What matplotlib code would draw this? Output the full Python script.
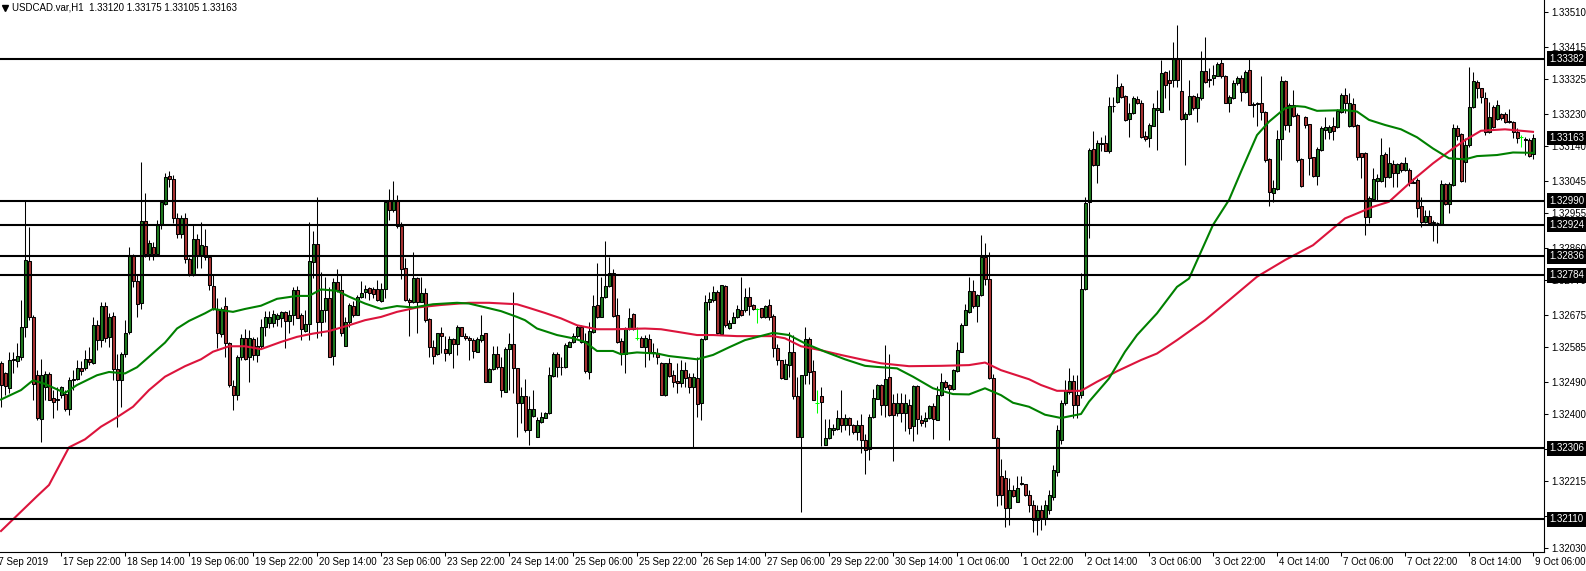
import matplotlib
matplotlib.use('Agg')
import matplotlib.pyplot as plt
import numpy as np
from matplotlib.transforms import blended_transform_factory

plt.rcParams['font.family'] = ['Liberation Sans', 'DejaVu Sans']

title = "USDCAD.var,H1  1.33120 1.33175 1.33105 1.33163"

opens = [
1.32542,1.32513,1.32473,1.32549,1.32548,1.32559,1.32640,1.32823,1.32669,1.32508,1.32386,1.32476,1.32511,1.32445,1.32442,1.32453,
1.32455,1.32416,1.32494,1.32498,1.32529,1.32529,1.32554,1.32543,1.32647,1.32605,1.32699,1.32614,1.32671,1.32524,1.32496,1.32568,
1.32628,1.32838,1.32769,1.32708,1.32934,1.32844,1.32861,1.32844,1.32922,1.32982,1.33058,1.33051,1.32941,1.32899,1.32941,1.32828,
1.32784,1.32883,1.32840,1.32865,1.32835,1.32755,1.32692,1.32623,1.32699,1.32596,1.32478,1.32453,1.32557,1.32611,1.32557,1.32609,
1.32565,1.32590,1.32640,1.32653,1.32653,1.32663,1.32665,1.32682,1.32659,1.32673,1.32744,1.32673,1.32631,1.32650,1.32822,1.32871,
1.32656,1.32687,1.32722,1.32562,1.32765,1.32744,1.32590,1.32656,1.32699,1.32675,1.32723,1.32737,1.32749,1.32746,1.32746,1.32714,
1.32746,1.32988,1.32965,1.32988,1.32920,1.32803,1.32716,1.32711,1.32776,1.32711,1.32734,1.32663,1.32587,1.32566,1.32624,1.32580,
1.32569,1.32607,1.32594,1.32640,1.32617,1.32612,1.32606,1.32573,1.32606,1.32624,1.32490,1.32524,1.32567,1.32530,1.32463,1.32581,
1.32594,1.32527,1.32430,1.32451,1.32357,1.32395,1.32338,1.32380,1.32389,1.32403,1.32507,1.32568,1.32532,1.32532,1.32587,1.32601,
1.32616,1.32642,1.32602,1.32518,1.32628,1.32702,1.32670,1.32723,1.32754,1.32789,1.32674,1.32602,1.32567,1.32636,1.32677,1.32612,
1.32610,1.32587,1.32607,1.32573,1.32570,1.32541,1.32453,1.32541,1.32509,1.32492,1.32487,1.32522,1.32504,1.32476,1.32501,1.32430,
1.32608,1.32709,1.32716,1.32739,1.32622,1.32754,1.32639,1.32653,1.32668,1.32688,1.32688,1.32725,1.32702,1.32690,1.32693,1.32668,
1.32702,1.32671,1.32583,1.32549,1.32499,1.32537,1.32571,1.32451,1.32338,1.32508,1.32607,1.32519,1.32431,1.32450,1.32316,1.32336,
1.32358,1.32359,1.32391,1.32372,1.32391,1.32370,1.32351,1.32372,1.32330,1.32303,1.32393,1.32443,1.32482,1.32427,1.32503,1.32430,
1.32404,1.32430,1.32404,1.32427,1.32368,1.32478,1.32384,1.32382,1.32391,1.32422,1.32385,1.32453,1.32488,1.32482,1.32469,1.32520,
1.32572,1.32648,1.32683,1.32740,1.32699,1.32729,1.32835,1.32775,1.32501,1.32336,1.32229,1.32225,1.32142,1.32192,1.32158,1.32207,
1.32209,1.32177,1.32149,1.32108,1.32136,1.32113,1.32136,1.32172,1.32240,1.32329,1.32431,1.32463,1.32492,1.32454,1.32454,1.32746,
1.32985,1.33132,1.33089,1.33146,1.33149,1.33127,1.33252,1.33262,1.33307,1.33279,1.33215,1.33231,1.33270,1.33259,1.33169,1.33162,
1.33197,1.33239,1.33236,1.33345,1.33323,1.33322,1.33381,1.33293,1.33215,1.33229,1.33279,1.33245,1.33273,1.33348,1.33322,1.33328,
1.33335,1.33370,1.33335,1.33261,1.33273,1.33316,1.33330,1.33289,1.33351,1.33257,1.33259,1.33259,1.33236,1.33105,1.33011,1.33022,
1.33160,1.33319,1.33199,1.33254,1.33226,1.33105,1.33222,1.33202,1.33110,1.33058,1.33130,1.33185,1.33180,1.33196,1.33192,1.33236,
1.33282,1.33196,1.33257,1.33199,1.33121,1.33121,1.32946,1.32995,1.33045,1.33045,1.33118,1.33056,1.33090,1.33065,1.33093,1.33075,
1.33075,1.33042,1.33047,1.32976,1.32930,1.32948,1.32930,1.32928,1.32925,1.33035,1.32981,1.33033,1.33190,1.33173,1.33098,1.33144,
1.33248,1.33317,1.33300,1.33273,1.33180,1.33248,1.33215,1.33228,1.33228,1.33211,1.33208,1.33180,1.33165,1.33159,1.33157,1.33120]

highs = [
1.32547,1.32517,1.32573,1.32573,1.32598,1.32715,1.32990,1.32916,1.32674,1.32522,1.32554,1.32520,1.32517,1.32467,1.32476,1.32479,
1.32467,1.32504,1.32522,1.32550,1.32547,1.32577,1.32587,1.32669,1.32660,1.32711,1.32711,1.32679,1.32683,1.32568,1.32573,1.32660,
1.32863,1.32844,1.32784,1.33097,1.33010,1.32881,1.32876,1.32936,1.32992,1.33065,1.33073,1.33061,1.32957,1.32950,1.32955,1.32835,
1.32922,1.32899,1.32930,1.32913,1.32840,1.32784,1.32720,1.32697,1.32725,1.32600,1.32494,1.32563,1.32623,1.32637,1.32634,1.32614,
1.32614,1.32663,1.32684,1.32684,1.32688,1.32679,1.32684,1.32684,1.32688,1.32753,1.32755,1.32679,1.32688,1.32930,1.32907,1.33001,
1.32794,1.32778,1.32753,1.32776,1.32802,1.32785,1.32670,1.32707,1.32714,1.32730,1.32767,1.32757,1.32753,1.32753,1.32771,1.32762,
1.32988,1.33022,1.33045,1.33006,1.32932,1.32831,1.32721,1.32848,1.32780,1.32780,1.32748,1.32665,1.32606,1.32626,1.32642,1.32615,
1.32615,1.32610,1.32647,1.32642,1.32624,1.32615,1.32610,1.32613,1.32675,1.32626,1.32527,1.32589,1.32589,1.32559,1.32587,1.32624,
1.32739,1.32527,1.32476,1.32499,1.32451,1.32467,1.32393,1.32407,1.32407,1.32532,1.32573,1.32573,1.32559,1.32596,1.32602,1.32624,
1.32647,1.32647,1.32624,1.32656,1.32729,1.32817,1.32780,1.32879,1.32835,1.32800,1.32720,1.32610,1.32642,1.32693,1.32679,1.32642,
1.32616,1.32619,1.32622,1.32596,1.32582,1.32545,1.32543,1.32555,1.32522,1.32541,1.32550,1.32545,1.32513,1.32513,1.32559,1.32610,
1.32729,1.32739,1.32754,1.32743,1.32757,1.32757,1.32660,1.32683,1.32702,1.32780,1.32748,1.32751,1.32706,1.32693,1.32695,1.32702,
1.32718,1.32678,1.32595,1.32551,1.32554,1.32628,1.32618,1.32503,1.32510,1.32641,1.32614,1.32549,1.32468,1.32476,1.32388,1.32388,
1.32374,1.32411,1.32466,1.32402,1.32393,1.32373,1.32384,1.32402,1.32347,1.32402,1.32471,1.32485,1.32485,1.32591,1.32566,1.32457,
1.32459,1.32459,1.32457,1.32443,1.32480,1.32480,1.32397,1.32407,1.32425,1.32430,1.32479,1.32513,1.32494,1.32485,1.32524,1.32600,
1.32651,1.32706,1.32779,1.32772,1.32732,1.32895,1.32872,1.32847,1.32512,1.32338,1.32278,1.32246,1.32225,1.32204,1.32229,1.32229,
1.32209,1.32191,1.32163,1.32149,1.32150,1.32163,1.32190,1.32260,1.32370,1.32440,1.32495,1.32527,1.32509,1.32509,1.32790,1.33001,
1.33135,1.33181,1.33158,1.33167,1.33170,1.33277,1.33277,1.33339,1.33314,1.33282,1.33259,1.33279,1.33279,1.33268,1.33181,1.33204,
1.33259,1.33296,1.33379,1.33347,1.33351,1.33429,1.33475,1.33383,1.33236,1.33323,1.33282,1.33287,1.33402,1.33443,1.33356,1.33365,
1.33374,1.33381,1.33337,1.33282,1.33323,1.33333,1.33337,1.33351,1.33381,1.33262,1.33262,1.33335,1.33238,1.33107,1.33047,1.33185,
1.33333,1.33323,1.33259,1.33296,1.33231,1.33107,1.33224,1.33203,1.33111,1.33139,1.33196,1.33222,1.33199,1.33222,1.33242,1.33288,
1.33300,1.33286,1.33273,1.33202,1.33122,1.33125,1.33003,1.33079,1.33064,1.33162,1.33125,1.33139,1.33102,1.33093,1.33098,1.33111,
1.33079,1.33052,1.33052,1.33001,1.32964,1.32964,1.32937,1.32932,1.33047,1.33038,1.33042,1.33202,1.33199,1.33176,1.33164,1.33360,
1.33346,1.33323,1.33302,1.33291,1.33263,1.33254,1.33268,1.33233,1.33236,1.33242,1.33211,1.33190,1.33171,1.33167,1.33162,1.33175]

lows = [
1.32421,1.32453,1.32458,1.32513,1.32531,1.32550,1.32614,1.32660,1.32439,1.32384,1.32324,1.32439,1.32439,1.32389,1.32412,1.32444,
1.32410,1.32398,1.32467,1.32494,1.32508,1.32522,1.32536,1.32540,1.32577,1.32587,1.32600,1.32587,1.32494,1.32366,1.32421,1.32559,
1.32623,1.32752,1.32669,1.32692,1.32835,1.32826,1.32826,1.32840,1.32913,1.32978,1.33028,1.32927,1.32886,1.32886,1.32817,1.32782,
1.32783,1.32803,1.32803,1.32826,1.32743,1.32688,1.32582,1.32614,1.32559,1.32476,1.32413,1.32439,1.32550,1.32550,1.32490,1.32550,
1.32545,1.32582,1.32615,1.32638,1.32642,1.32644,1.32642,1.32584,1.32624,1.32647,1.32665,1.32604,1.32627,1.32606,1.32776,1.32610,
1.32615,1.32656,1.32557,1.32536,1.32739,1.32615,1.32588,1.32642,1.32670,1.32673,1.32721,1.32721,1.32716,1.32721,1.32714,1.32711,
1.32721,1.32937,1.32960,1.32914,1.32773,1.32714,1.32617,1.32707,1.32626,1.32709,1.32656,1.32559,1.32539,1.32564,1.32569,1.32546,
1.32564,1.32527,1.32564,1.32615,1.32606,1.32550,1.32555,1.32573,1.32601,1.32489,1.32489,1.32523,1.32525,1.32447,1.32463,1.32466,
1.32460,1.32338,1.32375,1.32352,1.32315,1.32393,1.32338,1.32375,1.32389,1.32401,1.32504,1.32504,1.32509,1.32527,1.32585,1.32596,
1.32612,1.32596,1.32513,1.32499,1.32624,1.32665,1.32670,1.32720,1.32752,1.32670,1.32598,1.32536,1.32515,1.32633,1.32633,1.32605,
1.32585,1.32530,1.32550,1.32559,1.32538,1.32453,1.32451,1.32504,1.32476,1.32460,1.32476,1.32476,1.32458,1.32306,1.32393,1.32384,
1.32605,1.32688,1.32711,1.32622,1.32619,1.32642,1.32636,1.32651,1.32665,1.32671,1.32683,1.32674,1.32688,1.32653,1.32665,1.32665,
1.32660,1.32559,1.32536,1.32499,1.32499,1.32503,1.32443,1.32338,1.32131,1.32485,1.32485,1.32439,1.32404,1.32313,1.32315,1.32333,
1.32342,1.32356,1.32351,1.32356,1.32342,1.32347,1.32328,1.32292,1.32236,1.32275,1.32391,1.32442,1.32399,1.32393,1.32395,1.32271,
1.32395,1.32379,1.32354,1.32347,1.32327,1.32347,1.32367,1.32365,1.32388,1.32331,1.32384,1.32451,1.32471,1.32328,1.32467,1.32517,
1.32571,1.32646,1.32680,1.32695,1.32655,1.32726,1.32756,1.32499,1.32336,1.32146,1.32149,1.32089,1.32094,1.32172,1.32158,1.32204,
1.32174,1.32130,1.32075,1.32067,1.32080,1.32094,1.32125,1.32163,1.32230,1.32318,1.32426,1.32455,1.32390,1.32390,1.32444,1.32744,
1.32886,1.33087,1.33038,1.33126,1.33126,1.33121,1.33236,1.33259,1.33273,1.33210,1.33167,1.33229,1.33256,1.33164,1.33155,1.33139,
1.33195,1.33130,1.33234,1.33273,1.33241,1.33305,1.33305,1.33213,1.33089,1.33227,1.33241,1.33206,1.33268,1.33314,1.33305,1.33308,
1.33333,1.33330,1.33259,1.33236,1.33271,1.33310,1.33264,1.33287,1.33253,1.33222,1.33195,1.33213,1.33098,1.32976,1.32986,1.33020,
1.33103,1.33185,1.33180,1.33222,1.33098,1.33029,1.33190,1.33061,1.33056,1.33033,1.33128,1.33159,1.33159,1.33157,1.33190,1.33233,
1.33231,1.33194,1.33194,1.33102,1.33052,1.32895,1.32929,1.32992,1.32992,1.33042,1.33029,1.33052,1.33029,1.33029,1.33070,1.33073,
1.33030,1.33038,1.32946,1.32918,1.32927,1.32927,1.32879,1.32872,1.32925,1.32978,1.32955,1.33030,1.33157,1.33042,1.33042,1.33139,
1.33245,1.33273,1.33259,1.33171,1.33178,1.33190,1.33213,1.33213,1.33205,1.33205,1.33162,1.33148,1.33139,1.33116,1.33111,1.33105]

closes = [
1.32480,1.32478,1.32550,1.32552,1.32561,1.32642,1.32826,1.32668,1.32485,1.32389,1.32508,1.32511,1.32441,1.32434,1.32440,1.32476,
1.32416,1.32494,1.32499,1.32527,1.32520,1.32554,1.32545,1.32647,1.32605,1.32699,1.32612,1.32669,1.32524,1.32496,1.32568,1.32626,
1.32841,1.32769,1.32706,1.32934,1.32844,1.32872,1.32844,1.32922,1.32987,1.33054,1.33051,1.32941,1.32899,1.32941,1.32828,1.32784,
1.32883,1.32840,1.32867,1.32835,1.32757,1.32692,1.32625,1.32692,1.32596,1.32481,1.32453,1.32557,1.32611,1.32554,1.32611,1.32565,
1.32590,1.32642,1.32670,1.32670,1.32677,1.32675,1.32682,1.32659,1.32675,1.32744,1.32667,1.32635,1.32650,1.32824,1.32871,1.32656,
1.32688,1.32722,1.32559,1.32765,1.32742,1.32626,1.32656,1.32702,1.32673,1.32725,1.32736,1.32746,1.32734,1.32733,1.32716,1.32746,
1.32986,1.32965,1.32988,1.32920,1.32801,1.32716,1.32711,1.32776,1.32711,1.32734,1.32661,1.32587,1.32562,1.32624,1.32617,1.32569,
1.32607,1.32594,1.32640,1.32617,1.32610,1.32604,1.32576,1.32607,1.32619,1.32490,1.32524,1.32567,1.32530,1.32466,1.32580,1.32594,
1.32527,1.32430,1.32451,1.32358,1.32414,1.32414,1.32384,1.32392,1.32404,1.32509,1.32568,1.32530,1.32531,1.32591,1.32601,1.32616,
1.32642,1.32601,1.32521,1.32630,1.32699,1.32668,1.32725,1.32754,1.32789,1.32671,1.32601,1.32567,1.32636,1.32665,1.32635,1.32612,
1.32587,1.32610,1.32573,1.32570,1.32559,1.32453,1.32541,1.32507,1.32490,1.32487,1.32522,1.32501,1.32476,1.32504,1.32428,1.32608,
1.32711,1.32718,1.32739,1.32624,1.32757,1.32647,1.32651,1.32668,1.32690,1.32674,1.32725,1.32699,1.32690,1.32690,1.32668,1.32699,
1.32670,1.32583,1.32549,1.32501,1.32538,1.32571,1.32451,1.32338,1.32508,1.32607,1.32517,1.32439,1.32431,1.32434,1.32336,1.32361,
1.32361,1.32391,1.32372,1.32391,1.32372,1.32351,1.32372,1.32330,1.32301,1.32393,1.32446,1.32480,1.32427,1.32499,1.32399,1.32399,
1.32430,1.32404,1.32430,1.32361,1.32478,1.32388,1.32376,1.32391,1.32422,1.32386,1.32453,1.32488,1.32476,1.32469,1.32522,1.32577,
1.32648,1.32687,1.32740,1.32699,1.32729,1.32835,1.32775,1.32501,1.32336,1.32177,1.32177,1.32142,1.32192,1.32174,1.32198,1.32211,
1.32177,1.32149,1.32108,1.32136,1.32113,1.32149,1.32177,1.32246,1.32356,1.32431,1.32466,1.32492,1.32426,1.32426,1.32746,1.32983,
1.33130,1.33089,1.33149,1.33149,1.33128,1.33252,1.33251,1.33305,1.33277,1.33213,1.33231,1.33273,1.33259,1.33167,1.33160,1.33199,
1.33245,1.33245,1.33342,1.33310,1.33314,1.33381,1.33322,1.33215,1.33230,1.33279,1.33245,1.33275,1.33348,1.33317,1.33325,1.33337,
1.33368,1.33333,1.33261,1.33275,1.33316,1.33328,1.33289,1.33345,1.33254,1.33254,1.33256,1.33236,1.33101,1.33013,1.33024,1.33160,
1.33319,1.33199,1.33254,1.33224,1.33102,1.33030,1.33199,1.33109,1.33059,1.33134,1.33190,1.33192,1.33194,1.33183,1.33238,1.33282,
1.33259,1.33259,1.33196,1.33111,1.33111,1.32946,1.32998,1.33049,1.33052,1.33115,1.33056,1.33093,1.33065,1.33090,1.33075,1.33093,
1.33038,1.33040,1.32969,1.32932,1.32948,1.32929,1.32928,1.32927,1.33035,1.32981,1.33035,1.33190,1.33169,1.33044,1.33144,1.33248,
1.33319,1.33300,1.33275,1.33180,1.33222,1.33194,1.33254,1.33219,1.33208,1.33208,1.33180,1.33162,1.33165,1.33157,1.33113,1.33163]

ma_green_bar = [0,5,8,11,16,19,24,27,31,34,37,41,44,47,51,53,58,61,65,69,74,77,80,84,87,91,95,99,103,108,
                114,117,122,125,129,131,134,139,143,146,149,153,155,159,164,167,171,174,178,182,186,193,197,201,
                206,211,216,219,224,228,233,238,242,246,250,253,257,261,265,270,272,277,281,284,289,294,297,300,
                303,307,310,314,317,321,324,326,329,336,339,342,346,350,354,358,362,366,369,374,378,383]
ma_green_val = [1.32441,1.32467,1.32494,1.32484,1.32459,1.32481,1.32508,1.32517,1.32513,1.32530,1.32559,1.32598,
                1.32637,1.32658,1.32679,1.32691,1.32683,1.32691,1.32700,1.32719,1.32727,1.32727,1.32745,1.32741,
                1.32725,1.32706,1.32691,1.32699,1.32695,1.32704,1.32708,1.32706,1.32693,1.32685,1.32669,1.32660,
                1.32637,1.32619,1.32610,1.32600,1.32575,1.32575,1.32566,1.32571,1.32568,1.32561,1.32556,1.32552,
                1.32564,1.32585,1.32605,1.32625,1.32619,1.32596,1.32573,1.32552,1.32534,1.32531,1.32527,1.32504,
                1.32472,1.32456,1.32455,1.32472,1.32453,1.32432,1.32421,1.32399,1.32390,1.32401,1.32435,1.32499,
                1.32573,1.32619,1.32679,1.32752,1.32775,1.32849,1.32923,1.32992,1.33070,1.33171,1.33208,1.33245,
                1.33251,1.33249,1.33238,1.33240,1.33236,1.33213,1.33199,1.33187,1.33165,1.33134,1.33107,1.33104,
                1.33113,1.33116,1.33123,1.33122]
ma_red_bar = [0,9,12,17,21,25,29,33,37,41,46,50,53,57,61,65,70,74,78,82,87,91,95,99,104,110,117,122,129,132,
              136,140,144,149,153,161,165,169,174,178,184,193,196,200,205,210,215,220,227,235,242,246,250,257,
              260,264,270,274,279,285,289,294,301,307,314,321,328,336,343,347,353,358,363,366,370,376,383]
ma_red_val = [1.32078,1.32174,1.32205,1.32309,1.32331,1.32366,1.32392,1.32421,1.32467,1.32504,1.32533,1.32552,
              1.32573,1.32588,1.32588,1.32580,1.32600,1.32614,1.32623,1.32630,1.32646,1.32660,1.32669,1.32683,
              1.32695,1.32702,1.32708,1.32708,1.32704,1.32694,1.32680,1.32665,1.32646,1.32635,1.32635,1.32637,
              1.32635,1.32628,1.32619,1.32619,1.32616,1.32616,1.32610,1.32588,1.32577,1.32564,1.32552,1.32541,
              1.32533,1.32534,1.32536,1.32543,1.32522,1.32497,1.32481,1.32465,1.32465,1.32490,1.32519,1.32550,
              1.32568,1.32605,1.32660,1.32715,1.32780,1.32826,1.32867,1.32941,1.32973,1.32987,1.33047,1.33093,
              1.33134,1.33157,1.33183,1.33187,1.33180]

levels = [1.33382, 1.32990, 1.32924, 1.32836, 1.32784, 1.32306, 1.32110]
current_price = 1.33163
price_ticks = [1.33510, 1.33415, 1.33325, 1.33230, 1.33140, 1.33045, 1.32955, 1.32860, 1.32770,
               1.32675, 1.32585, 1.32490, 1.32400, 1.32305, 1.32215, 1.32120, 1.32030]
time_labels = ["17 Sep 2019", "17 Sep 22:00", "18 Sep 14:00", "19 Sep 06:00", "19 Sep 22:00",
               "20 Sep 14:00", "23 Sep 06:00", "23 Sep 22:00", "24 Sep 14:00", "25 Sep 06:00",
               "25 Sep 22:00", "26 Sep 14:00", "27 Sep 06:00", "29 Sep 22:00", "30 Sep 14:00",
               "1 Oct 06:00", "1 Oct 22:00", "2 Oct 14:00", "3 Oct 06:00", "3 Oct 22:00",
               "4 Oct 14:00", "7 Oct 06:00", "7 Oct 22:00", "8 Oct 14:00", "9 Oct 06:00"]
first_label_bar = -1
bars_per_label = 16

o = np.array(opens); h = np.array(highs); l = np.array(lows); c = np.array(closes)
n = len(c)
assert len(o) == len(h) == len(l) == n, (len(o), len(h), len(l), n)
idx = np.arange(n)

W, H = 1586, 571
fig = plt.figure(figsize=(W / 100, H / 100), dpi=100, facecolor='white')
ax = fig.add_axes([0, 19 / H, 1544 / W, 552 / H])
ax.set_facecolor('white')

up = c > o
dn = c < o
dj = c == o
bull = '#1f7a1f'
bear = '#a83232'

ax.vlines(idx[~dj], l[~dj], h[~dj], color='black', lw=0.75, zorder=2)
ax.bar(idx[up], (c - o)[up], bottom=o[up], width=0.75, color=bull, edgecolor='black', lw=0.75, zorder=3)
ax.bar(idx[dn], (o - c)[dn], bottom=c[dn], width=0.75, color=bear, edgecolor='black', lw=0.75, zorder=3)
ax.vlines(idx[dj], l[dj], h[dj], color='#00ff00', lw=0.75, zorder=3)
ax.hlines(o[dj], idx[dj] - 0.4, idx[dj] + 0.4, color='#00ff00', lw=0.75, zorder=3)

ax.plot(ma_red_bar, ma_red_val, color='#dc143c', lw=1.5, zorder=4, solid_joinstyle='round')
ax.plot(ma_green_bar, ma_green_val, color='#008000', lw=1.5, zorder=4, solid_joinstyle='round')

for lv in levels:
    ax.axhline(lv, color='black', lw=1.5, zorder=5)

for s in ['left', 'top']:
    ax.spines[s].set_visible(False)
for s in ['right', 'bottom']:
    ax.spines[s].set_color('black')
    ax.spines[s].set_linewidth(0.8)

ax.yaxis.tick_right()
ax.set_yticks(price_ticks)
ax.set_yticklabels([f'{v:.5f}' for v in price_ticks])
ax.tick_params(axis='y', direction='out', length=3, width=0.75, pad=2, labelsize=7, colors='black')

tick_bars = [first_label_bar + bars_per_label * i for i in range(len(time_labels))]
ax.set_xticks(tick_bars)
ax.set_xticklabels([])
ax.tick_params(axis='x', direction='out', length=3, width=0.75)

# limits set after ticks so that ticks do not widen the view
ax.set_xlim(-0.25, 385.75)
ax.set_ylim(1.32020, 1.33544)

tx = blended_transform_factory(ax.transData, ax.transAxes)
for i, (k, lab) in enumerate(zip(tick_bars, time_labels)):
    # the first (dated) label starts a little further left, clipped by the window edge
    xk = k - 0.9 if i == 0 else k + 0.4
    ax.text(xk, -10 / 552, lab, transform=tx, ha='left', va='center', fontsize=7,
            color='black', clip_on=False)

for v in levels + [current_price]:
    ax.text(1549 / 1544, v, f'{v:.5f}', transform=ax.get_yaxis_transform(), color='white',
            fontsize=7, va='center', ha='left', zorder=10, clip_on=False,
            bbox=dict(boxstyle='square,pad=0.25', fc='black', ec='none'))

ax.text(12 / 1544, 1 - 8 / 552, title, transform=ax.transAxes, ha='left', va='center',
        fontsize=7, color='black', zorder=10)
ax.plot([5 / 1544], [1 - 8 / 552], marker='v', ms=4.5, color='black', transform=ax.transAxes,
        clip_on=False, zorder=10)

fig.savefig('out.png', dpi=100, facecolor='white')
